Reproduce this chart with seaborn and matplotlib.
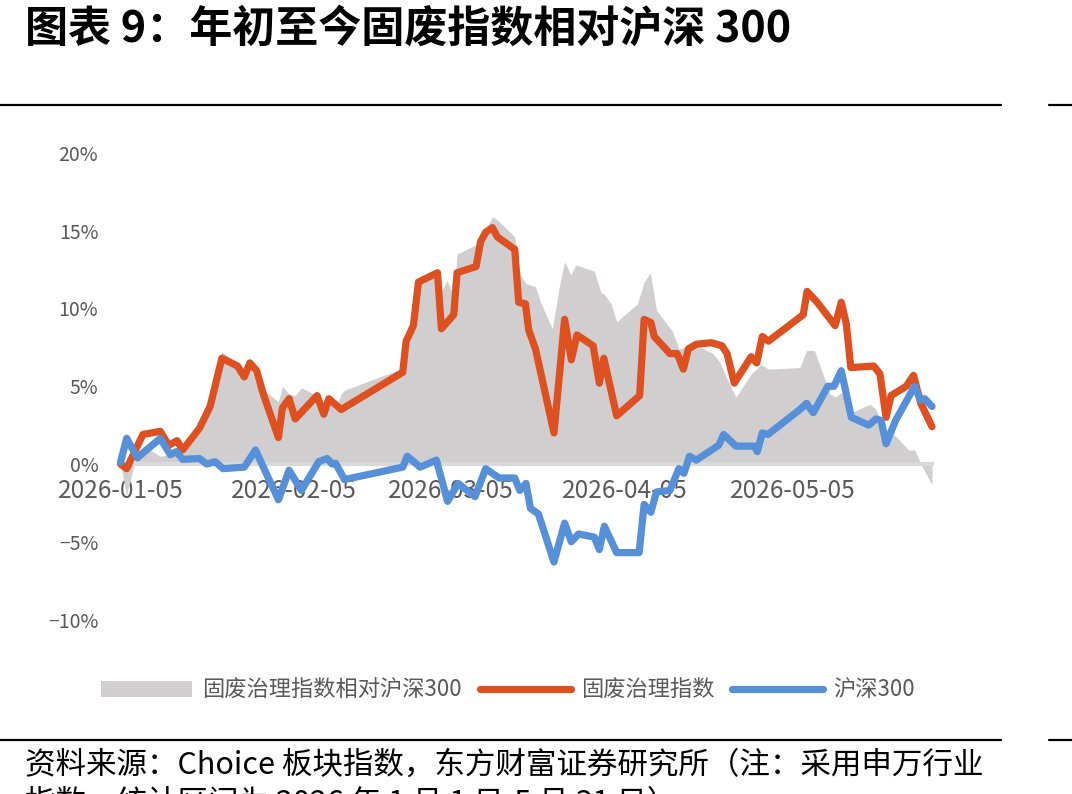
import matplotlib
matplotlib.use("Agg")
import matplotlib.pyplot as plt
from matplotlib.lines import Line2D
from matplotlib.patches import Patch
import pandas as pd
import seaborn as sns

# 横轴：距 2026-01-05 的天数；纵轴：年初至今涨跌幅（%）
rel_day = [0, 1.1, 3.0, 4.3, 7.1, 8.9, 10.1, 11.1, 14.1, 16.0, 18.1, 20.9, 22.1, 23.1,
           24.3, 25.5, 27.2, 28.2, 28.9, 30.1, 31.2, 32.3, 35.1, 36.3, 37.2, 38.4, 39.4,
           40.0, 50.4, 51.0, 52.3, 53.2, 56.6, 57.3, 58.3, 59.5, 60.1, 63.5, 64.3, 65.2,
           66.4, 67.3, 70.4, 71.3, 72.4, 74.1, 75.0, 77.1, 78.4, 79.3, 80.4, 81.3, 84.6,
           85.8, 86.4, 87.6, 88.6, 92.3, 93.5, 94.6, 95.7, 98.6, 99.7, 102.8, 105.8,
           107.1, 108.0, 109.9, 112.6, 114.4, 115.7, 121.3, 122.5, 123.9, 125.9, 126.7,
           127.7, 128.7, 130.5, 133.9, 134.9, 136.7, 138.4, 140.7, 141.8, 142.9, 144.9]
rel_val = [0.0, -2.0, 0.8, 1.1, 0.5, 0.6, 0.7, 0.6, 2.0, 3.6, 7.2, 6.5, 5.8, 6.3,
           5.1, 4.75, 4.3, 4.0, 5.0, 4.5, 4.4, 4.9, 4.4, 3.2, 4.0, 3.5, 4.5,
           4.75, 6.15, 7.4, 8.6, 11.9, 12.1, 11.1, 11.8, 10.8, 13.5, 14.1, 14.7, 15.0,
           15.9, 15.7, 14.6, 12.2, 11.6, 11.4, 10.4, 8.7, 11.5, 13.0, 12.15, 12.8, 12.4,
           11.0, 10.9, 10.3, 9.15, 10.3, 11.7, 12.3, 9.9, 8.5, 7.4, 7.65, 7.1,
           6.5, 5.7, 4.3, 5.8, 6.4, 6.1, 6.2, 7.3, 7.3, 5.3, 4.5,
           4.3, 4.6, 3.3, 3.85, 3.5, 2.0, 1.8, 0.9, 0.9, 0.0, -1.35]

gf_day = [0, 1.1, 4.0, 7.1, 8.6, 10.1, 11.1, 14.1, 16.0, 18.1, 20.9, 22.1, 23.1, 24.3,
          25.5, 28.2, 28.9, 30.1, 31.2, 35.1, 36.3, 37.2, 39.4, 50.4, 51.0, 52.3, 53.2,
          56.6, 57.3, 59.5, 60.1, 63.5, 64.3, 65.2, 66.4, 67.3, 70.4, 71.1, 72.3, 72.9,
          74.1, 77.4, 79.3, 80.5, 81.5, 84.4, 85.5, 86.3, 88.6, 92.7, 93.5, 94.7, 95.3,
          98.1, 99.4, 100.5, 101.4, 102.8, 105.5, 107.4, 108.3, 109.6, 112.6, 113.6,
          114.6, 115.7, 121.9, 122.6, 124.4, 127.6, 128.7, 129.6, 130.4, 134.5, 135.6,
          136.7, 137.6, 140.3, 141.6, 142.9, 144.9]
gf_val = [0.0, -0.3, 1.9, 2.1, 1.2, 1.5, 0.9, 2.3, 3.7, 6.8, 6.3, 5.6, 6.5, 6.0,
          4.5, 1.7, 3.6, 4.2, 2.9, 4.4, 3.2, 4.2, 3.5, 5.9, 7.9, 8.9, 11.7,
          12.3, 8.7, 9.6, 12.3, 12.7, 14.3, 14.9, 15.2, 14.6, 13.8, 10.4, 10.3, 8.6,
          7.4, 2.0, 9.3, 6.7, 8.3, 7.6, 5.2, 6.8, 3.1, 4.4, 9.3, 9.1, 8.2,
          7.1, 7.1, 6.1, 7.4, 7.7, 7.8, 7.6, 7.1, 5.2, 6.9, 6.5,
          8.2, 7.9, 9.6, 11.1, 10.4, 8.9, 10.4, 9.0, 6.2, 6.3, 5.8,
          3.0, 4.4, 5.0, 5.7, 3.9, 2.4]

hs_day = [0, 1.1, 3.0, 4.3, 7.1, 8.9, 10.0, 11.1, 14.1, 15.4, 16.9, 18.3, 22.1, 24.1,
          28.2, 30.1, 32.3, 35.4, 36.9, 37.8, 38.4, 40.0, 50.4, 51.2, 53.5, 56.4, 58.4,
          60.3, 63.3, 65.2, 67.6, 70.4, 71.3, 72.4, 73.2, 74.6, 77.4, 79.3, 80.5, 81.8,
          84.6, 85.5, 86.4, 88.6, 92.6, 93.5, 94.7, 95.7, 98.1, 99.7, 100.6, 101.6,
          102.8, 106.8, 107.7, 109.9, 113.2, 113.7, 114.6, 115.6, 121.3, 122.5, 123.7,
          126.3, 127.4, 128.7, 130.5, 133.6, 134.9, 135.8, 136.7, 138.4, 141.8, 142.9,
          143.6, 144.9]
hs_val = [0.1, 1.65, 0.4, 0.8, 1.65, 0.6, 0.8, 0.3, 0.35, 0.0, 0.15, -0.3, -0.2, 0.9,
          -2.3, -0.4, -1.7, 0.15, 0.35, 0.0, 0.05, -1.0, -0.2, 0.5, -0.2, 0.25, -2.4,
          -1.25, -2.1, -0.3, -0.9, -0.9, -1.7, -1.25, -2.85, -3.2, -6.3, -3.8, -5.0, -4.5,
          -4.7, -5.5, -4.0, -5.7, -5.7, -2.6, -3.1, -1.8, -1.7, -0.3, -0.6, 0.5,
          0.25, 1.2, 1.9, 1.15, 1.15, 0.8, 2.0, 1.9, 3.5, 3.9, 3.3,
          5.0, 5.0, 6.0, 3.0, 2.5, 2.9, 2.8, 1.3, 2.8, 5.0, 4.1,
          4.2, 3.7]

tick_day = [0, 31, 59, 90, 120]
tick_label = ["2026-01-05", "2026-02-05", "2026-03-05", "2026-04-05", "2026-05-05"]
ytick_val = [-10, -5, 0, 5, 10, 15, 20]
ytick_label = ["−10%", "−5%", "0%", "5%", "10%", "15%", "20%"]

legend_label = ["固废治理指数相对沪深300", "固废治理指数", "沪深300"]

GREY = "#D0CECF"
RED = "#DE5020"
BLUE = "#5690D8"
TXT = "#595959"

sns.set_theme(style="white")
plt.rcParams["font.family"] = ["Noto Sans CJK SC", "DejaVu Sans"]
plt.rcParams["axes.unicode_minus"] = True

W, H = 1072, 794
fig = plt.figure(figsize=(W / 100, H / 100), dpi=100)
ax = fig.add_axes([120.5 / W, 1 - 619.5 / H, (932 - 120.5) / W, (619.5 - 153) / H])

ax.fill_between(rel_day, rel_val, 0, color=GREY, linewidth=0, zorder=1)

df_gf = pd.DataFrame({"day": gf_day, "val": gf_val})
df_hs = pd.DataFrame({"day": hs_day, "val": hs_val})
sns.lineplot(data=df_gf, x="day", y="val", color=RED, linewidth=5.2, ax=ax,
             sort=False, estimator=None, zorder=3, clip_on=False,
             solid_joinstyle="round", solid_capstyle="round")
sns.lineplot(data=df_hs, x="day", y="val", color=BLUE, linewidth=5.2, ax=ax,
             sort=False, estimator=None, zorder=4, clip_on=False,
             solid_joinstyle="round", solid_capstyle="round")

ax.set_xlim(rel_day[0], rel_day[-1])
ax.set_ylim(-10, 20)
ax.set_xticks(tick_day)
ax.set_xticklabels(tick_label)
ax.set_yticks(ytick_val)
ax.set_yticklabels(ytick_label)
ax.set_xlabel("")
ax.set_ylabel("")

for s in ["left", "top", "right"]:
    ax.spines[s].set_visible(False)
ax.spines["bottom"].set_position(("data", 0))
ax.spines["bottom"].set_color("#D9D9D9")
ax.spines["bottom"].set_linewidth(3)
ax.spines["bottom"].set_zorder(2)

ax.tick_params(axis="x", length=5, width=2, color="#D9D9D9", labelcolor=TXT,
               labelsize=17.5, pad=5, direction="out")
ax.tick_params(axis="y", length=0, labelcolor=TXT, labelsize=14, pad=16)
ax.patch.set_alpha(0)

handles = [Patch(facecolor=GREY, edgecolor="none"),
           Line2D([], [], color=RED, linewidth=5.2, solid_capstyle="round"),
           Line2D([], [], color=BLUE, linewidth=5.2, solid_capstyle="round")]
fig.legend(handles, legend_label, loc="center", bbox_to_anchor=(508 / W, 1 - 690 / H),
           ncol=3, frameon=False, fontsize=16, handlelength=4.1, handletextpad=0.45,
           columnspacing=0.8, labelcolor=TXT)

# 标题与分隔线
fig.text(25 / W, 1 - 29 / H, "图表 9：年初至今固废指数相对沪深 300", fontsize=31,
         fontweight="bold", ha="left", va="center", color="black")
for y in [105, 740]:
    fig.add_artist(Line2D([0, 1001 / W], [1 - y / H] * 2, color="black", linewidth=1.6))
    fig.add_artist(Line2D([1049 / W, 1], [1 - y / H] * 2, color="black", linewidth=1.6))

fig.text(25 / W, 1 - 765 / H, "资料来源：Choice 板块指数，东方财富证券研究所（注：采用申万行业",
         fontsize=22, ha="left", va="center", color="black")
fig.text(25 / W, 1 - 803 / H, "指数，统计区间为 2026 年 1 月 1 日-5 月 31 日）",
         fontsize=22, ha="left", va="center", color="black")

fig.savefig("out.png", dpi=100)
